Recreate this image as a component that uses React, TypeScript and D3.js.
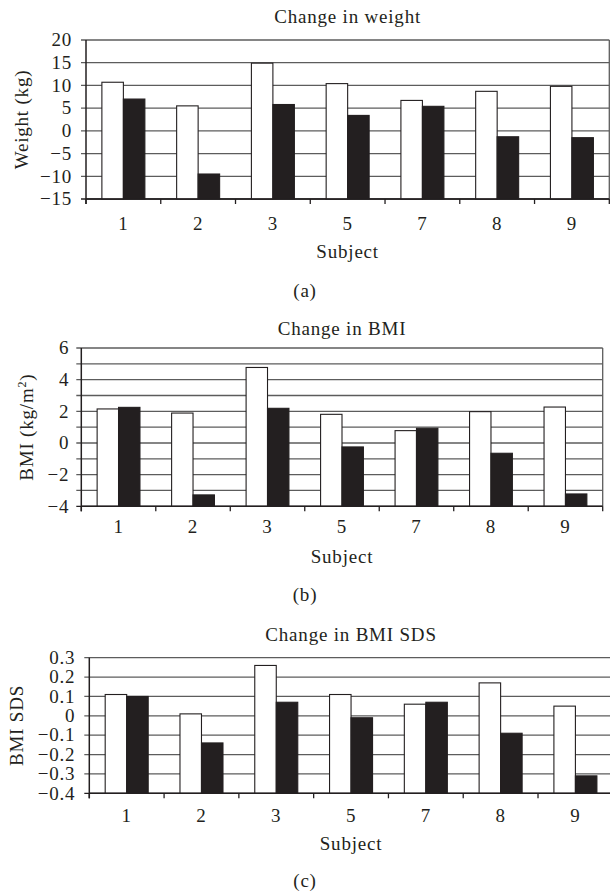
import React from 'react';
import * as d3 from 'd3';

const subjects = ['1', '2', '3', '5', '7', '8', '9'];

const weightWhite = [10.7, 5.5, 14.9, 10.4, 6.7, 8.7, 9.8];
const weightBlack = [7.0, -9.5, 5.8, 3.4, 5.4, -1.3, -1.5];
const weightGrid = [20, 15, 10, 5, 0, -5, -10, -15];
const weightLabels = [20, 15, 10, 5, 0, -5, -10, -15];

const bmiWhite = [2.15, 1.89, 4.77, 1.81, 0.78, 1.98, 2.27];
const bmiBlack = [2.25, -3.28, 2.19, -0.25, 0.93, -0.65, -3.22];
const bmiGrid = [6, 5, 4, 3, 2, 1, 0, -1, -2, -3, -4];
const bmiLabels = [6, 4, 2, 0, -2, -4];

const sdsWhite = [0.11, 0.01, 0.26, 0.11, 0.06, 0.17, 0.05];
const sdsBlack = [0.10, -0.14, 0.07, -0.01, 0.07, -0.09, -0.31];
const sdsGrid = [0.3, 0.2, 0.1, 0, -0.1, -0.2, -0.3, -0.4];
const sdsLabels = [0.3, 0.2, 0.1, 0, -0.1, -0.2, -0.3, -0.4];

const FONT = '"Liberation Serif", "Times New Roman", serif';
const FS = 19;
const LS = 0.8;
const INK = '#231f20';
const GRID = '#5c5c5c';

type PanelProps = {
  top: number;
  bottom: number;
  left: number;
  right: number;
  min: number;
  max: number;
  grid: number[];
  labels: number[];
  fmt: (v: number) => string;
  white: number[];
  black: number[];
  title: string;
  titleY: number;
  ylabel: React.ReactNode;
  ylabelX: number;
  labelGap: number;
  xTickY: number;
  subjectY: number;
  caption: string;
  captionY: number;
};

function Panel(p: PanelProps) {
  const y = d3.scaleLinear().domain([p.min, p.max]).range([p.bottom, p.top]);
  const x0 = d3.scaleBand<string>().domain(subjects).range([p.left, p.right]).padding(0);
  const bw = x0.bandwidth();
  const x1 = d3.scaleBand<string>().domain(['w', 'b']).range([bw * 0.2125, bw * 0.7875]).padding(0);
  const cx = (p.left + p.right) / 2;
  const boundaries = d3.range(subjects.length + 1).map((i) => p.left + i * bw);
  const midY = (p.top + p.bottom) / 2;

  return (
    <g>
      <text x={cx} y={p.titleY} textAnchor="middle" fontFamily={FONT} fontSize={FS} letterSpacing={LS} fill={INK}>
        {p.title}
      </text>
      {p.grid.map((g) => (
        <line key={'g' + g} x1={p.left - 5} x2={p.right} y1={y(g)} y2={y(g)} stroke={g === p.min ? INK : GRID} strokeWidth={1.3} />
      ))}
      <line x1={p.right} x2={p.right} y1={p.top} y2={p.bottom} stroke={GRID} strokeWidth={1.3} />
      {subjects.map((s, i) => {
        const bx = x0(s) as number;
        const yb = y(p.min);
        return (
          <g key={s}>
            <rect x={bx + (x1('w') as number)} y={y(p.white[i])} width={x1.bandwidth()} height={yb - y(p.white[i])} fill="#ffffff" stroke={INK} strokeWidth={1.1} />
            <rect x={bx + (x1('b') as number)} y={y(p.black[i])} width={x1.bandwidth()} height={yb - y(p.black[i])} fill={INK} stroke={INK} strokeWidth={1.1} />
          </g>
        );
      })}
      <line x1={p.left} x2={p.left} y1={p.top} y2={p.bottom + 5} stroke={INK} strokeWidth={1.5} />
      <line x1={p.left} x2={p.right} y1={p.bottom} y2={p.bottom} stroke={INK} strokeWidth={1.5} />
      {boundaries.map((b, i) => (
        <line key={'t' + i} x1={b} x2={b} y1={p.bottom} y2={p.bottom + 5} stroke={INK} strokeWidth={1.3} />
      ))}
      {p.labels.map((v) => (
        <text key={'l' + v} x={p.left - p.labelGap} y={y(v) + 6.3} textAnchor="end" fontFamily={FONT} fontSize={FS} letterSpacing={LS} fill={INK}>
          {p.fmt(v)}
        </text>
      ))}
      {subjects.map((s) => (
        <text key={'x' + s} x={(x0(s) as number) + bw / 2} y={p.xTickY} textAnchor="middle" fontFamily={FONT} fontSize={FS} letterSpacing={LS} fill={INK}>
          {s}
        </text>
      ))}
      <text x={cx} y={p.subjectY} textAnchor="middle" fontFamily={FONT} fontSize={FS} letterSpacing={LS} fill={INK}>
        Subject
      </text>
      <text
        transform={`translate(${p.ylabelX},${midY}) rotate(-90)`}
        y={6}
        textAnchor="middle"
        fontFamily={FONT}
        fontSize={FS}
        letterSpacing={LS}
        fill={INK}
      >
        {p.ylabel}
      </text>
      <text x={305} y={p.captionY} textAnchor="middle" fontFamily={FONT} fontSize={FS} letterSpacing={LS} fill={INK}>
        {p.caption}
      </text>
    </g>
  );
}

const minus = (s: string) => s.replace('-', '\u2212');
const fmtInt = (v: number) => minus(String(v));
const fmtSds = (v: number) => (v === 0 ? '0' : minus(v.toFixed(1)));

export default function App() {
  return (
    <svg width={610} height={896} style={{ position: 'absolute', left: 0, top: 0, background: '#ffffff' }}>
      <rect x={0} y={0} width={610} height={896} fill="#ffffff" />
      <Panel
        top={40}
        bottom={199}
        left={86}
        right={609.3}
        min={-15}
        max={20}
        grid={weightGrid}
        labels={weightLabels}
        fmt={fmtInt}
        white={weightWhite}
        black={weightBlack}
        title="Change in weight"
        titleY={23}
        ylabel="Weight (kg)"
        ylabelX={21.5}
        labelGap={14}
        xTickY={229.5}
        subjectY={258}
        caption="(a)"
        captionY={297}
      />
      <Panel
        top={348}
        bottom={506.3}
        left={81.3}
        right={602.7}
        min={-4}
        max={6}
        grid={bmiGrid}
        labels={bmiLabels}
        fmt={fmtInt}
        white={bmiWhite}
        black={bmiBlack}
        title="Change in BMI"
        titleY={335}
        ylabel={
          <>
            <tspan>BMI (kg/m</tspan>
            <tspan fontSize={12} dy={-7}>2</tspan>
            <tspan dy={7}>)</tspan>
          </>
        }
        ylabelX={27}
        labelGap={12}
        xTickY={533}
        subjectY={563}
        caption="(b)"
        captionY={601}
      />
      <Panel
        top={657.7}
        bottom={793.3}
        left={89.3}
        right={612.8}
        min={-0.4}
        max={0.3}
        grid={sdsGrid}
        labels={sdsLabels}
        fmt={fmtSds}
        white={sdsWhite}
        black={sdsBlack}
        title="Change in BMI SDS"
        titleY={640.7}
        ylabel="BMI SDS"
        ylabelX={17}
        labelGap={14}
        xTickY={821.7}
        subjectY={850}
        caption="(c)"
        captionY={887}
      />
    </svg>
  );
}
